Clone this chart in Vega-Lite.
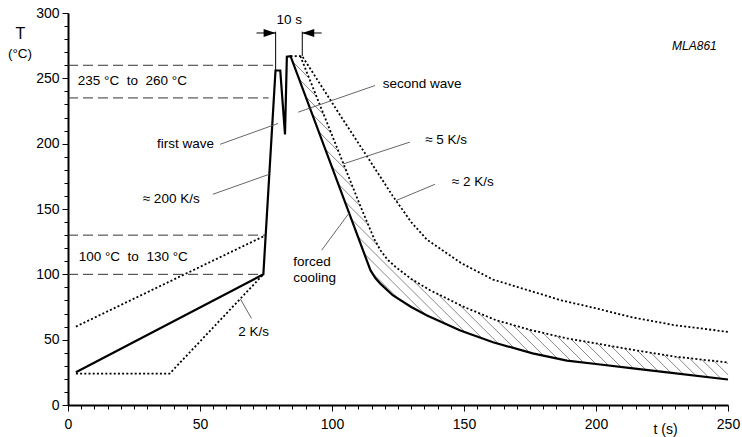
{
  "$schema": "https://vega.github.io/schema/vega-lite/v6.json",
  "width": 660,
  "height": 392,
  "autosize": "none",
  "padding": {"left": 68, "top": 13, "right": 14, "bottom": 32},
  "background": "white",
  "config": {"view": {"stroke": null}, "font": "Liberation Sans", "axis": {"grid": false}},
  "datasets": {
    "solid": [
      {"t": 3, "T": 25}, {"t": 74, "T": 100}, {"t": 78.6, "T": 256}, {"t": 80.4, "T": 256},
      {"t": 82.2, "T": 207}, {"t": 82.9, "T": 266.5}, {"t": 84.3, "T": 267}, {"t": 113.3, "T": 110},
      {"t": 114.6, "T": 103}, {"t": 116.5, "T": 97}, {"t": 118.5, "T": 92.5}, {"t": 123, "T": 84},
      {"t": 130, "T": 75}, {"t": 136, "T": 68.5}, {"t": 148.6, "T": 57}, {"t": 161, "T": 48},
      {"t": 176, "T": 39.5}, {"t": 189, "T": 34}, {"t": 201.6, "T": 31}, {"t": 214, "T": 28},
      {"t": 227, "T": 25}, {"t": 250, "T": 19.5}
    ],
    "dotted": [
      {"s": "a", "t": 3, "T": 24}, {"s": "a", "t": 38.5, "T": 24}, {"s": "a", "t": 74, "T": 100},
      {"s": "b", "t": 3, "T": 60}, {"s": "b", "t": 75, "T": 130},
      {"s": "c", "t": 88, "T": 267}, {"s": "c", "t": 111, "T": 151}, {"s": "c", "t": 113.5, "T": 139},
      {"s": "c", "t": 116, "T": 127}, {"s": "c", "t": 118.5, "T": 118}, {"s": "c", "t": 121, "T": 111.3},
      {"s": "c", "t": 124.2, "T": 105.5}, {"s": "c", "t": 130, "T": 96.5}, {"s": "c", "t": 137, "T": 88},
      {"s": "c", "t": 149.5, "T": 75.5}, {"s": "c", "t": 162, "T": 65}, {"s": "c", "t": 175, "T": 57.5},
      {"s": "c", "t": 189, "T": 51}, {"s": "c", "t": 214, "T": 42.2}, {"s": "c", "t": 230, "T": 37},
      {"s": "c", "t": 250, "T": 32.5},
      {"s": "d", "t": 84.3, "T": 267}, {"s": "d", "t": 88.7, "T": 267}, {"s": "d", "t": 103, "T": 222},
      {"s": "d", "t": 114, "T": 188}, {"s": "d", "t": 123, "T": 160}, {"s": "d", "t": 130, "T": 140},
      {"s": "d", "t": 136, "T": 126.5}, {"s": "d", "t": 149, "T": 108.5}, {"s": "d", "t": 161, "T": 96},
      {"s": "d", "t": 174, "T": 88}, {"s": "d", "t": 187, "T": 80}, {"s": "d", "t": 200, "T": 74},
      {"s": "d", "t": 214, "T": 67}, {"s": "d", "t": 230, "T": 61}, {"s": "d", "t": 250, "T": 56}
    ],
    "dashed": [
      {"t": 0, "t2": 78.6, "T": 260}, {"t": 0, "t2": 76, "T": 235},
      {"t": 0, "t2": 74.9, "T": 130}, {"t": 0, "t2": 74, "T": 100}
    ],
    "hatch": [
      {"t": 115.0, "T": 101.6, "t2": 125.2, "T2": 81.2},
      {"t": 112.3, "T": 115.6, "t2": 135.3, "T2": 69.3},
      {"t": 109.8, "T": 129.0, "t2": 143.0, "T2": 62.1},
      {"t": 107.3, "T": 142.3, "t2": 117.3, "T2": 122.3},
      {"t": 130.3, "T": 96.2, "t2": 150.4, "T2": 55.7},
      {"t": 104.9, "T": 155.7, "t2": 113.8, "T2": 137.8},
      {"t": 140.0, "T": 85.0, "t2": 156.9, "T2": 51.0},
      {"t": 102.4, "T": 169.1, "t2": 110.7, "T2": 152.3},
      {"t": 148.3, "T": 76.7, "t2": 163.1, "T2": 46.8},
      {"t": 99.9, "T": 182.5, "t2": 108.0, "T2": 166.3},
      {"t": 155.6, "T": 70.3, "t2": 169.0, "T2": 43.5},
      {"t": 97.45, "T": 195.8, "t2": 105.2, "T2": 180.25},
      {"t": 162.6, "T": 64.6, "t2": 174.8, "T2": 40.2},
      {"t": 95.0, "T": 209.2, "t2": 102.4, "T2": 194.2},
      {"t": 168.5, "T": 61.3, "t2": 180.1, "T2": 37.8},
      {"t": 92.5, "T": 222.6, "t2": 99.65, "T2": 208.2},
      {"t": 174.3, "T": 57.9, "t2": 185.4, "T2": 35.55},
      {"t": 90.0, "T": 236.0, "t2": 96.9, "T2": 222.2},
      {"t": 179.8, "T": 55.3, "t2": 190.5, "T2": 33.7},
      {"t": 87.6, "T": 249.3, "t2": 94.1, "T2": 236.2},
      {"t": 185.2, "T": 52.8, "t2": 195.3, "T2": 32.5},
      {"t": 85.1, "T": 262.7, "t2": 91.3, "T2": 250.15},
      {"t": 190.5, "T": 50.5, "t2": 200.0, "T2": 31.4},
      {"t": 195.6, "T": 48.7, "t2": 204.8, "T2": 30.2},
      {"t": 200.6, "T": 46.9, "t2": 209.5, "T2": 29.1},
      {"t": 205.7, "T": 45.15, "t2": 214.2, "T2": 28.0},
      {"t": 210.75, "T": 43.4, "t2": 218.9, "T2": 26.9},
      {"t": 215.8, "T": 41.6, "t2": 223.6, "T2": 25.8},
      {"t": 220.8, "T": 40.0, "t2": 228.35, "T2": 24.7},
      {"t": 225.7, "T": 38.4, "t2": 233.1, "T2": 23.6},
      {"t": 230.7, "T": 36.9, "t2": 237.8, "T2": 22.5},
      {"t": 235.4, "T": 35.8, "t2": 242.6, "T2": 21.3},
      {"t": 240.1, "T": 34.8, "t2": 247.3, "T2": 20.2},
      {"t": 244.75, "T": 33.7, "t2": 250, "T2": 23.15},
      {"t": 249.4, "T": 32.7, "t2": 250, "T2": 31.55}
    ],
    "leaders": [
      {"t": 57.6, "T": 199.5, "t2": 79.6, "T2": 215.5},
      {"t": 116.3, "T": 244.5, "t2": 87.2, "T2": 224.1},
      {"t": 129.5, "T": 201.2, "t2": 104.3, "T2": 184.5},
      {"t": 139.0, "T": 168.9, "t2": 124.3, "T2": 156.5},
      {"t": 54.9, "T": 161.3, "t2": 76.26, "T2": 176.6},
      {"t": 69.5, "T": 66.3, "t2": 65.3, "T2": 81.1},
      {"t": 96.1, "T": 118.5, "t2": 106.5, "T2": 147}
    ],
    "marker": [
      {"t": 78.65, "T": 285.7, "t2": 78.65, "T2": 256},
      {"t": 88.74, "T": 285.7, "t2": 88.74, "T2": 267},
      {"t": 71.4, "T": 284.7, "t2": 78.65, "T2": 284.7},
      {"t": 96.1, "T": 284.7, "t2": 88.74, "T2": 284.7}
    ],
    "heads": [
      {"dir": "right", "t": 78.65, "T": 284.7},
      {"dir": "left", "t": 88.74, "T": 284.7}
    ],
    "labels": [
      {"t": 3.7, "T": 248.3, "text": "235 °C\u00a0 to\u00a0 260 °C"},
      {"t": 4.05, "T": 113.4, "text": "100 °C\u00a0 to\u00a0 130 °C"},
      {"t": 33.7, "T": 199.5, "text": "first wave"},
      {"t": 119.2, "T": 245.8, "text": "second wave"},
      {"t": 135.3, "T": 202.5, "text": "≈ 5 K/s"},
      {"t": 145.4, "T": 170.7, "text": "≈ 2 K/s"},
      {"t": 28.3, "T": 157.5, "text": "≈ 200 K/s"},
      {"t": 64.5, "T": 56.2, "text": "2 K/s"},
      {"t": 85.3, "T": 109.6, "text": "forced"},
      {"t": 85.3, "T": 97, "text": "cooling"},
      {"t": 79.0, "T": 294.5, "text": "10 s"},
      {"t": -22.75, "T": 268.9, "text": "(°C)"}
    ],
    "code": [
      {"t": 228.8, "T": 275, "text": "MLA861"}
    ]
  },
  "encoding": {
    "x": {"field": "t", "type": "quantitative", "scale": {"domain": [0, 250], "nice": false, "zero": false},
      "axis": {
        "title": "t (s)",
        "values": [0,5,10,15,20,25,30,35,40,45,50,55,60,65,70,75,80,85,90,95,100,105,110,115,120,125,130,135,140,145,150,155,160,165,170,175,180,185,190,195,200,205,210,215,220,225,230,235,240,245,250],
        "labelExpr": "datum.value % 50 === 0 ? datum.label : ''",
        "tickSize": {"condition": {"test": "datum.value % 50 === 0", "value": 6}, "value": 4},
        "labelFlush": false, "labelOverlap": false, "labelBound": false,
        "labelFontSize": 14, "labelPadding": 6, "labelColor": "black", "labelFont": "Liberation Sans",
        "domainWidth": 2, "domainColor": "black", "tickColor": "black", "tickWidth": 1,
        "titleX": 597, "titleY": 24, "titleAlign": "center", "titleBaseline": "middle",
        "titleFontSize": 14, "titleFontWeight": "normal", "titleColor": "black", "titleFont": "Liberation Sans"
      }},
    "y": {"field": "T", "type": "quantitative", "scale": {"domain": [0, 300], "nice": false, "zero": false},
      "axis": {
        "title": "T",
        "values": [0,10,20,30,40,50,60,70,80,90,100,110,120,130,140,150,160,170,180,190,200,210,220,230,240,250,260,270,280,290,300],
        "labelExpr": "datum.value % 50 === 0 ? datum.label : ''",
        "tickSize": {"condition": {"test": "datum.value % 50 === 0", "value": 6}, "value": 4},
        "labelFlush": false, "labelOverlap": false, "labelBound": false,
        "labelFontSize": 14, "labelPadding": 3, "labelColor": "black", "labelFont": "Liberation Sans",
        "domainWidth": 2, "domainColor": "black", "tickColor": "black", "tickWidth": 1,
        "titleAngle": 0, "titleX": -48, "titleY": 20, "titleAlign": "center", "titleBaseline": "middle",
        "titleFontSize": 16, "titleFontWeight": "normal", "titleColor": "black", "titleFont": "Liberation Sans"
      }}
  },
  "layer": [
    {
      "data": {"name": "hatch"},
      "mark": {"type": "rule", "color": "#6a6a6a", "strokeWidth": 0.8},
      "encoding": {"x2": {"field": "t2"}, "y2": {"field": "T2"}}
    },
    {
      "data": {"name": "dashed"},
      "mark": {"type": "rule", "color": "#333333", "strokeWidth": 1, "strokeDash": [10, 5]},
      "encoding": {"x2": {"field": "t2"}}
    },
    {
      "data": {"name": "dotted"},
      "mark": {"type": "line", "color": "black", "strokeWidth": 1.8, "strokeDash": [2, 2.2], "strokeCap": "butt"},
      "encoding": {"detail": {"field": "s", "type": "nominal"}}
    },
    {
      "data": {"name": "solid"},
      "mark": {"type": "line", "color": "black", "strokeWidth": 2.2, "strokeJoin": "miter"},
      "encoding": {}
    },
    {
      "data": {"name": "leaders"},
      "mark": {"type": "rule", "color": "#555555", "strokeWidth": 0.9},
      "encoding": {"x2": {"field": "t2"}, "y2": {"field": "T2"}}
    },
    {
      "data": {"name": "marker"},
      "mark": {"type": "rule", "color": "black", "strokeWidth": 1},
      "encoding": {"x2": {"field": "t2"}, "y2": {"field": "T2"}}
    },
    {
      "data": {"name": "heads"},
      "transform": [{"filter": "datum.dir === 'right'"}],
      "mark": {"type": "point", "shape": "M0,0L-2,-0.67L-2,0.67Z", "filled": true, "color": "black", "size": 144, "opacity": 1, "strokeWidth": 0}
    },
    {
      "data": {"name": "heads"},
      "transform": [{"filter": "datum.dir === 'left'"}],
      "mark": {"type": "point", "shape": "M0,0L2,-0.67L2,0.67Z", "filled": true, "color": "black", "size": 144, "opacity": 1, "strokeWidth": 0}
    },
    {
      "data": {"name": "labels"},
      "mark": {"type": "text", "align": "left", "baseline": "middle", "fontSize": 13.5, "font": "Liberation Sans", "color": "black"},
      "encoding": {"text": {"field": "text", "type": "nominal"}}
    },
    {
      "data": {"name": "code"},
      "mark": {"type": "text", "align": "left", "baseline": "middle", "fontSize": 12, "fontStyle": "italic", "font": "Liberation Sans", "color": "black"},
      "encoding": {"text": {"field": "text", "type": "nominal"}}
    }
  ]
}
